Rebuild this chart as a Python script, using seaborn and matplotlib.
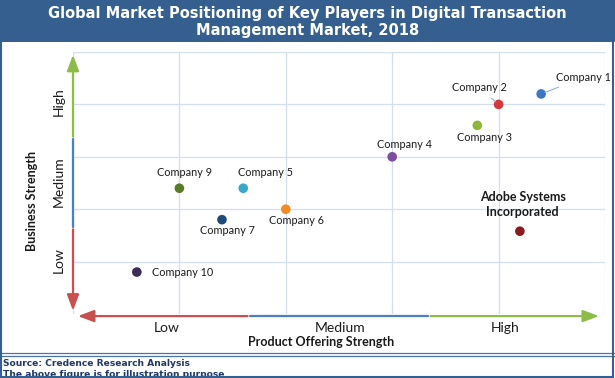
import numpy as np
import pandas as pd
import seaborn as sns
import matplotlib.pyplot as plt
from matplotlib.patches import Rectangle
from matplotlib.lines import Line2D

# data
companies = ["Company 1", "Company 2", "Company 3", "Company 4", "Company 5",
             "Company 6", "Company 7", "Company 9", "Company 10",
             "Adobe Systems\nIncorporated"]
product_strength = [4.40, 4.00, 3.80, 3.00, 1.60, 2.00, 1.40, 1.00, 0.60, 4.20]
business_strength = [4.20, 4.00, 3.60, 3.00, 2.40, 2.00, 1.80, 2.40, 0.80, 1.58]
colors = ["#3b78c4", "#d2383c", "#8cb63c", "#7b4f9e", "#35a9c9",
          "#f28a26", "#1f4a7c", "#5b7a25", "#3d2b58", "#8a1c1f"]
levels = ["Low", "Medium", "High"]

BANNER = "#355f8f"
GRID = "#d3dff0"
NAVY = "#1f3864"
TXT = "#1a1a1a"

sns.set_theme(style="white")
plt.rcParams["font.family"] = ["Lato", "DejaVu Sans"]

df = pd.DataFrame({"company": companies, "x": product_strength, "y": business_strength})

fig = plt.figure(figsize=(6.15, 3.78), dpi=100)
ax = fig.add_axes([73 / 615, 1 - 314 / 378, 532 / 615, 262 / 378])

sns.scatterplot(data=df, x="x", y="y", hue="company", palette=dict(zip(companies, colors)),
                s=48, edgecolor="none", legend=False, ax=ax, zorder=4)

ax.set_xlim(0, 5)
ax.set_ylim(0, 5)
ax.set_xticks(range(6))
ax.set_yticks(range(6))
ax.tick_params(which="major", length=0, labelbottom=False, labelleft=False)
ax.grid(True, which="major", color=GRID, linewidth=0.9)
ax.set_axisbelow(True)
for s in ax.spines.values():
    s.set_visible(False)

# category labels on the minor ticks
ax.set_xticks([0.88, 2.51, 4.06], minor=True)
ax.set_xticklabels(levels, minor=True, fontsize=10, color=TXT)
ax.set_yticks([1.03, 2.52, 4.05], minor=True)
ax.set_yticklabels(levels, minor=True, fontsize=10, color=TXT, rotation=90, va="center")
ax.tick_params(which="minor", length=0, pad=6)

ax.set_xlabel("Product Offering Strength", fontsize=9, fontweight="bold", color=TXT)
ax.xaxis.set_label_coords((321 - 73) / 532, -0.085)
ax.set_ylabel("Business Strength", fontsize=9, fontweight="bold", color=TXT)
ax.yaxis.set_label_coords(-0.066, 0.43)

# three-colour arrows along both axes
seg = [("#c8504f", 0, 5 / 3), ("#4a7fc0", 5 / 3, 10 / 3), ("#8ebc48", 10 / 3, 5)]
tr_x = ax.get_xaxis_transform()
tr_y = ax.get_yaxis_transform()
yo = -0.008
head = dict(arrowstyle="-|>,head_length=0.8,head_width=0.3", lw=1.6)
for i, (c, a, b) in enumerate(seg):
    if i == 0:
        ax.annotate("", xy=(a + 0.02, yo), xytext=(b, yo), xycoords=tr_x, textcoords=tr_x,
                    arrowprops=dict(head, color=c), annotation_clip=False)
        ax.annotate("", xy=(0, a + 0.01), xytext=(0, b), xycoords=tr_y, textcoords=tr_y,
                    arrowprops=dict(head, color=c), annotation_clip=False)
    elif i == 2:
        ax.annotate("", xy=(b - 0.03, yo), xytext=(a, yo), xycoords=tr_x, textcoords=tr_x,
                    arrowprops=dict(head, color=c), annotation_clip=False)
        ax.annotate("", xy=(0, b), xytext=(0, a), xycoords=tr_y, textcoords=tr_y,
                    arrowprops=dict(head, color=c), annotation_clip=False)
    else:
        ax.plot([a, b], [yo, yo], transform=tr_x, color=c, lw=1.6, clip_on=False)
        ax.plot([0, 0], [a, b], transform=tr_y, color=c, lw=1.6, clip_on=False)

# point labels (offsets in points)
offsets = {
    "Company 1": (11, 12, "left", "center"),
    "Company 2": (-14, 12, "center", "center"),
    "Company 3": (5, -9, "center", "center"),
    "Company 4": (9, 9, "center", "center"),
    "Company 5": (16, 11, "center", "center"),
    "Company 6": (8, -8, "center", "center"),
    "Company 7": (4, -8, "center", "center"),
    "Company 9": (4, 11, "center", "center"),
    "Company 10": (11, 0, "left", "center"),
}
for name, x, y in zip(companies, product_strength, business_strength):
    if name in offsets:
        dx, dy, ha, va = offsets[name]
        lead = name in ("Company 1", "Company 2")
        ax.annotate(name, xy=(x, y), xytext=(dx, dy), textcoords="offset points",
                    ha=ha, va=va, fontsize=7.8, color=TXT, zorder=5,
                    arrowprops=dict(arrowstyle="-", color="#8fb2de", lw=0.8,
                                    shrinkA=2, shrinkB=3) if lead else None)
    else:
        ax.annotate(name, xy=(x, y), xytext=(2, 19), textcoords="offset points",
                    ha="center", va="center", fontsize=9, fontweight="bold",
                    color=TXT, linespacing=1.3)

# banner, frame and footer
fig.patches.append(Rectangle((0, 1 - 42 / 378), 1, 42 / 378, transform=fig.transFigure,
                             facecolor=BANNER, edgecolor="none", zorder=0))
fig.text(0.5, 1 - 22 / 378, "Global Market Positioning of Key Players in Digital Transaction\nManagement Market, 2018",
         ha="center", va="center", color="white", fontsize=10.5, fontweight="bold",
         family="DejaVu Sans", linespacing=1.15)
fig.patches.append(Rectangle((0.0015, 0.002), 0.9955, 0.996, transform=fig.transFigure,
                             facecolor="none", edgecolor=BANNER, lw=1.5, zorder=10))
for yy in (353, 355.5):
    fig.lines.append(Line2D([0, 1], [1 - yy / 378] * 2, transform=fig.transFigure,
                            color="#4a72a8", lw=0.9))
fig.text(3 / 615, 1 - 363 / 378, "Source: Credence Research Analysis", ha="left", va="center",
         color=NAVY, fontsize=6.6, fontweight="bold", family="DejaVu Sans")
fig.text(3 / 615, 1 - 374.5 / 378, "The above figure is for illustration purpose", ha="left",
         va="center", color=NAVY, fontsize=6.6, fontweight="bold", family="DejaVu Sans")

fig.savefig("out.png", dpi=100)
